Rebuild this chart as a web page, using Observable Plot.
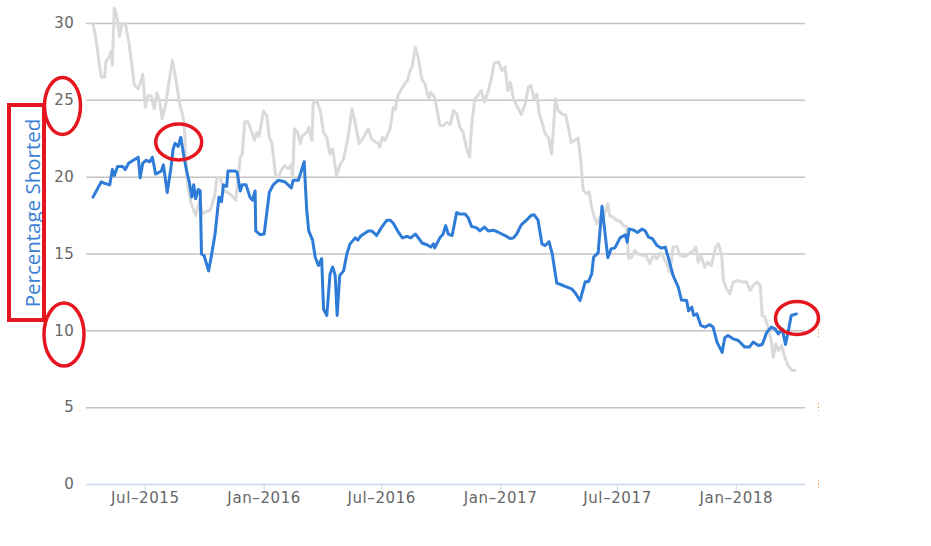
<!DOCTYPE html>
<html>
<head>
<meta charset="utf-8">
<script src="https://cdn.jsdelivr.net/npm/d3@7"></script>
<script src="https://cdn.jsdelivr.net/npm/@observablehq/plot@0.6"></script>
<style>
  html, body { margin: 0; padding: 0; background: #fff; }
  #wrap { position: relative; width: 931px; height: 546px; }
  #overlay { position: absolute; left: 0; top: 0; pointer-events: none; }
  #wrap svg.chart text { letter-spacing: 0.6px; }
</style>
</head>
<body>
<div id="wrap"></div>
<script>
// ---- data ----
const blueDates = ["2015-04-11","2015-04-24","2015-04-29","2015-05-07","2015-05-11","2015-05-14","2015-05-19","2015-05-27","2015-05-31","2015-06-05","2015-06-20","2015-06-23","2015-06-27","2015-07-02","2015-07-08","2015-07-12","2015-07-17","2015-07-26","2015-07-29","2015-08-04","2015-08-10","2015-08-13","2015-08-16","2015-08-21","2015-08-25","2015-08-30","2015-09-03","2015-09-07","2015-09-11","2015-09-14","2015-09-17","2015-09-21","2015-09-24","2015-09-26","2015-09-30","2015-10-07","2015-10-11","2015-10-17","2015-10-23","2015-10-27","2015-10-30","2015-11-04","2015-11-06","2015-11-17","2015-11-20","2015-11-25","2015-11-28","2015-12-04","2015-12-10","2015-12-14","2015-12-18","2015-12-19","2015-12-26","2016-01-01","2016-01-09","2016-01-15","2016-01-23","2016-02-02","2016-02-12","2016-02-15","2016-02-23","2016-03-03","2016-03-05","2016-03-07","2016-03-10","2016-03-16","2016-03-20","2016-03-25","2016-03-30","2016-04-02","2016-04-07","2016-04-12","2016-04-16","2016-04-20","2016-04-23","2016-04-27","2016-05-03","2016-05-08","2016-05-13","2016-05-21","2016-05-25","2016-05-29","2016-06-10","2016-06-16","2016-06-23","2016-07-01","2016-07-09","2016-07-14","2016-07-19","2016-07-27","2016-08-02","2016-08-09","2016-08-15","2016-08-22","2016-09-02","2016-09-09","2016-09-15","2016-09-19","2016-09-21","2016-09-29","2016-10-04","2016-10-08","2016-10-12","2016-10-18","2016-10-25","2016-10-30","2016-11-07","2016-11-12","2016-11-17","2016-11-25","2016-11-30","2016-12-07","2016-12-13","2016-12-21","2016-12-29","2017-01-08","2017-01-16","2017-01-21","2017-01-26","2017-02-02","2017-02-10","2017-02-17","2017-02-22","2017-02-28","2017-03-06","2017-03-11","2017-03-17","2017-03-22","2017-03-29","2017-04-05","2017-04-11","2017-04-21","2017-04-26","2017-05-04","2017-05-12","2017-05-17","2017-05-22","2017-05-25","2017-06-01","2017-06-07","2017-06-16","2017-06-21","2017-06-27","2017-07-05","2017-07-13","2017-07-16","2017-07-19","2017-07-25","2017-08-01","2017-08-08","2017-08-13","2017-08-18","2017-08-24","2017-08-31","2017-09-07","2017-09-13","2017-09-18","2017-09-25","2017-10-03","2017-10-08","2017-10-16","2017-10-19","2017-10-24","2017-10-27","2017-11-01","2017-11-07","2017-11-13","2017-11-21","2017-11-26","2017-12-02","2017-12-10","2017-12-14","2017-12-19","2017-12-27","2018-01-04","2018-01-14","2018-01-21","2018-01-27","2018-02-04","2018-02-10","2018-02-17","2018-02-24","2018-03-02","2018-03-07","2018-03-13","2018-03-18","2018-03-22","2018-03-27","2018-04-04"];
const blueValues = [18.7,19.7,19.6,19.5,20.5,20.1,20.7,20.7,20.5,20.9,21.3,19.95,20.9,21.1,21.0,21.3,20.2,20.4,20.8,19.0,20.7,21.8,22.2,22.0,22.6,21.3,20.4,19.7,18.7,19.5,18.6,19.2,19.1,15.0,14.9,13.9,14.8,16.3,18.7,18.4,19.5,19.4,20.4,20.4,20.35,19.1,19.5,19.5,18.7,18.5,19.1,16.5,16.25,16.3,19.0,19.5,19.8,19.7,19.3,19.8,19.8,21.0,19.3,17.8,16.5,15.9,14.8,14.25,14.7,11.4,11.0,13.7,14.15,13.6,11.0,13.6,13.9,15.0,15.66,16.05,15.9,16.15,16.5,16.5,16.2,16.75,17.2,17.2,17.0,16.4,16.05,16.15,16.05,16.3,15.7,15.6,15.45,15.66,15.4,16.05,16.3,16.85,16.3,16.2,17.7,17.6,17.6,17.35,16.8,16.7,16.5,16.75,16.5,16.55,16.4,16.2,16.0,16.05,16.3,16.9,17.2,17.5,17.55,17.2,15.66,15.55,15.8,15.0,13.1,13.0,12.9,12.73,12.5,11.97,13.2,13.2,13.7,14.8,15.07,18.1,14.76,15.33,15.4,16.05,16.25,15.77,16.63,16.57,16.4,16.63,16.5,16.1,16.0,15.55,15.38,15.45,14.7,13.6,12.84,12.0,11.97,11.3,11.54,11.0,11.1,10.35,10.24,10.4,10.24,9.27,8.6,9.55,9.7,9.48,9.37,8.94,8.94,9.27,9.05,9.11,9.9,10.24,10.13,9.8,10.13,9.11,9.9,11.0,11.1];

const grayDates = ["2015-04-11","2015-04-16","2015-04-21","2015-04-24","2015-04-29","2015-05-01","2015-05-07","2015-05-09","2015-05-11","2015-05-14","2015-05-18","2015-05-22","2015-05-26","2015-05-31","2015-06-06","2015-06-14","2015-06-20","2015-06-24","2015-06-27","2015-07-01","2015-07-05","2015-07-10","2015-07-15","2015-07-19","2015-07-23","2015-07-27","2015-08-02","2015-08-07","2015-08-12","2015-08-18","2015-08-23","2015-08-28","2015-08-30","2015-09-02","2015-09-05","2015-09-10","2015-09-13","2015-09-17","2015-09-23","2015-09-28","2015-10-06","2015-10-09","2015-10-16","2015-10-20","2015-10-25","2015-10-30","2015-11-06","2015-11-12","2015-11-18","2015-11-22","2015-11-25","2015-11-28","2015-12-02","2015-12-07","2015-12-13","2015-12-17","2015-12-20","2015-12-24","2015-12-31","2016-01-05","2016-01-09","2016-01-13","2016-01-19","2016-01-24","2016-01-29","2016-02-02","2016-02-07","2016-02-12","2016-02-14","2016-02-17","2016-02-22","2016-02-26","2016-02-29","2016-03-07","2016-03-10","2016-03-15","2016-03-17","2016-03-22","2016-03-28","2016-04-02","2016-04-07","2016-04-09","2016-04-12","2016-04-16","2016-04-22","2016-04-27","2016-05-03","2016-05-10","2016-05-16","2016-05-21","2016-05-27","2016-06-03","2016-06-10","2016-06-15","2016-06-21","2016-06-26","2016-06-28","2016-07-02","2016-07-06","2016-07-14","2016-07-19","2016-07-22","2016-07-26","2016-07-31","2016-08-06","2016-08-10","2016-08-14","2016-08-17","2016-08-22","2016-08-26","2016-09-01","2016-09-06","2016-09-12","2016-09-15","2016-09-21","2016-09-29","2016-10-04","2016-10-10","2016-10-15","2016-10-17","2016-10-20","2016-10-25","2016-10-30","2016-11-04","2016-11-09","2016-11-14","2016-11-17","2016-11-22","2016-11-27","2016-12-02","2016-12-07","2016-12-13","2016-12-17","2016-12-22","2016-12-29","2017-01-03","2017-01-08","2017-01-12","2017-01-16","2017-01-21","2017-01-26","2017-02-02","2017-02-08","2017-02-13","2017-02-17","2017-02-22","2017-02-26","2017-03-02","2017-03-06","2017-03-11","2017-03-16","2017-03-21","2017-03-27","2017-03-31","2017-04-06","2017-04-12","2017-04-16","2017-04-20","2017-04-26","2017-05-01","2017-05-05","2017-05-09","2017-05-14","2017-05-18","2017-05-22","2017-05-26","2017-05-30","2017-06-04","2017-06-08","2017-06-16","2017-06-19","2017-06-24","2017-06-30","2017-07-05","2017-07-10","2017-07-15","2017-07-18","2017-07-23","2017-07-28","2017-08-02","2017-08-10","2017-08-15","2017-08-20","2017-08-25","2017-08-31","2017-09-05","2017-09-10","2017-09-15","2017-09-20","2017-09-25","2017-10-01","2017-10-06","2017-10-13","2017-10-19","2017-10-27","2017-10-30","2017-11-03","2017-11-07","2017-11-13","2017-11-18","2017-11-23","2017-11-30","2017-12-04","2017-12-09","2017-12-12","2017-12-17","2017-12-22","2017-12-27","2018-01-04","2018-01-12","2018-01-17","2018-01-22","2018-01-27","2018-02-02","2018-02-07","2018-02-10","2018-02-14","2018-02-19","2018-02-24","2018-02-27","2018-03-03","2018-03-07","2018-03-12","2018-03-17","2018-03-22","2018-03-28","2018-04-02"];
const grayValues = [30.0,28.9,27.3,26.5,26.5,27.5,27.9,28.2,27.3,31.0,30.5,29.15,30.0,30.0,28.7,26.0,25.75,26.2,26.7,24.55,25.3,25.3,24.45,25.5,25.0,23.8,24.8,26.3,27.6,26.2,24.8,24.0,23.6,21.1,19.35,18.27,17.94,17.5,18.5,17.6,17.83,17.8,18.7,20.0,20.0,19.1,19.0,18.8,18.5,20.0,21.3,21.5,23.6,23.6,22.9,22.4,22.9,22.65,24.3,24.0,22.6,22.2,20.0,20.1,20.55,20.76,20.55,20.8,20.04,23.15,22.9,22.2,22.7,22.9,23.25,22.4,24.8,25.0,24.3,22.9,22.6,22.05,21.5,21.85,20.1,20.76,21.2,22.6,24.45,23.5,22.2,22.6,23.15,22.5,22.3,22.2,21.95,22.6,22.4,23.15,24.55,24.4,25.3,25.7,26.1,26.3,26.95,27.15,28.45,27.9,26.4,26.07,25.03,25.53,25.2,23.36,23.36,23.57,23.43,23.7,24.34,24.12,23.25,22.93,21.95,21.3,23.25,25.1,25.32,25.64,24.88,25.64,26.3,27.42,27.5,26.94,27.16,25.64,26.18,25.1,24.66,24.08,24.77,25.85,25.96,25.1,25.42,24.12,23.57,22.82,22.6,21.52,25.1,24.34,24.12,24.0,23.25,22.27,22.39,22.56,21.08,19.13,18.92,19.03,18.05,17.4,16.96,17.4,17.2,18.27,17.5,17.4,17.18,17.14,16.85,16.79,14.69,14.8,15.23,15.0,14.9,14.84,14.36,14.9,14.69,15.06,14.8,14.36,13.82,15.45,15.49,14.9,14.84,15.0,15.23,15.45,14.47,14.9,14.14,14.47,14.25,15.45,15.66,15.0,13.27,12.73,12.41,13.17,13.27,13.17,13.17,12.62,12.95,13.17,12.95,11.0,10.9,10.24,9.37,8.28,9.16,8.72,9.05,8.28,7.74,7.42,7.42];

const yTicks = [0, 5, 10, 15, 20, 25, 30];
const xTickDates = ["2015-07-01","2016-01-01","2016-07-01","2017-01-01","2017-07-01","2018-01-01"];
const xTickLabels = ["Jul\u20132015","Jan\u20132016","Jul\u20132016","Jan\u20132017","Jul\u20132017","Jan\u20132018"];
const yTitle = "Percentage Shorted";
const xDomain = ["2015-04-01", "2018-04-18"];

// ---- build ----
const parse = d3.utcParse("%Y-%m-%d");
const blue = blueDates.map((d, i) => ({date: parse(d), value: blueValues[i]}));
const gray = grayDates.map((d, i) => ({date: parse(d), value: grayValues[i]}));
const xTicks = xTickDates.map(parse);
const labelOf = new Map(xTicks.map((d, i) => [+d, xTickLabels[i]]));

const chart = Plot.plot({
  width: 931,
  height: 546,
  marginLeft: 86,
  marginRight: 126,
  marginTop: 23,
  marginBottom: 62,
  className: "chart",
  style: {fontFamily: "DejaVu Sans", fontSize: "15px", background: "#fff", overflow: "visible"},
  x: {type: "utc", domain: xDomain.map(parse)},
  y: {domain: [0, 30]},
  marks: [
    Plot.gridY(yTicks.filter(d => d > 0), {stroke: "#c4c4c4", strokeOpacity: 1, strokeWidth: 1.5}),
    Plot.ruleY([0], {stroke: "#ccd6eb", strokeWidth: 1.5}),
    Plot.axisY(yTicks, {tickSize: 0, tickPadding: 12, fill: "#666", fontSize: 15, label: null}),
    Plot.axisX(xTicks, {tickSize: 6, tickPadding: 2, stroke: "#ccd6eb", fill: "#666", fontSize: 15,
      tickFormat: d => labelOf.get(+d), label: null}),
    Plot.lineY(gray, {x: "date", y: "value", stroke: "#dadada", strokeWidth: 3, strokeLinejoin: "round"}),
    Plot.lineY(blue, {x: "date", y: "value", stroke: "#2e7cd8", strokeWidth: 3, strokeLinejoin: "round"})
  ]
});
chart.classList.add("chart");
const wrap = document.getElementById("wrap");
wrap.appendChild(chart);

// ---- annotations (red hand-drawn marks, axis title) ----
const ns = "http://www.w3.org/2000/svg";
const ov = document.createElementNS(ns, "svg");
ov.setAttribute("id", "overlay");
ov.setAttribute("width", 931);
ov.setAttribute("height", 546);
function el(tag, attrs, text) {
  const e = document.createElementNS(ns, tag);
  for (const k in attrs) e.setAttribute(k, attrs[k]);
  if (text) e.textContent = text;
  ov.appendChild(e);
  return e;
}
el("text", {x: 0, y: 0, transform: "translate(40,213) rotate(-90)", "text-anchor": "middle",
  fill: "#3a7fd6", "font-family": "Open Sans", "font-size": 20.5}, yTitle);
const red = "#e5161f";
el("rect", {x: 9, y: 105, width: 35, height: 215, fill: "none", stroke: red, "stroke-width": 4});
el("ellipse", {cx: 62.5, cy: 106, rx: 18, ry: 28.5, fill: "none", stroke: red, "stroke-width": 3.5});
el("ellipse", {cx: 64, cy: 334.5, rx: 20, ry: 31.5, fill: "none", stroke: red, "stroke-width": 3.5});
el("ellipse", {cx: 178.7, cy: 142, rx: 23, ry: 18, fill: "none", stroke: red, "stroke-width": 3.5});
el("ellipse", {cx: 797, cy: 318, rx: 21.5, ry: 16.5, fill: "none", stroke: red, "stroke-width": 3.5});
for (const cy of [333, 407, 484]) {
  el("line", {x1: 818.5, x2: 818.5, y1: cy - 4, y2: cy + 4, stroke: "#f7a35c", "stroke-width": 1, "stroke-dasharray": "1.5,2"});
}
wrap.appendChild(ov);
</script>
</body>
</html>
